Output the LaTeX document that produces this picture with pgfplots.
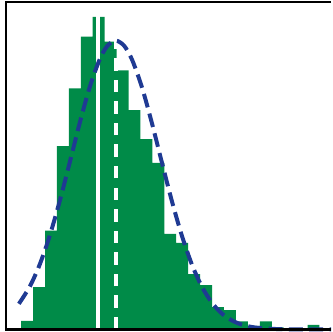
\documentclass[border=0pt]{standalone}
\usepackage{pgfplots}
\pgfplotsset{compat=1.18}
\definecolor{hgreen}{RGB}{0,139,72}
\definecolor{cblue}{RGB}{31,58,147}
\begin{document}
\begin{tikzpicture}
\begin{axis}[
  name=ax,
  x=1pt, y=1pt,
  xmin=6, xmax=333, ymin=0, ymax=329.5,
  axis line style={draw=none},
  xtick=\empty, ytick=\empty,
  clip=false,
]
\addplot[ybar interval, fill=hgreen, draw=none] coordinates {
(21.3,8.5) (33.3,42.5) (45.3,99.5) (57.3,184.5) (69.3,242.5) (81.3,294.5)
(93.3,314.5) (105.3,289.5) (117.3,260.5) (129.3,220.5) (141.3,191.5)
(153.3,167.5) (165.3,96) (177.3,87) (189.3,55.5) (201.3,44.5) (213.3,22.5)
(225.3,19.5) (237.3,8) (249.3,3.5) (261.4,8.2) (273.4,2) (285.4,1)
(297.4,1) (309.4,4.5) (321.4,4.5)
};
% solid white line
\addplot[white, line width=3.1pt] coordinates {(98.6,0) (98.6,329.5)};
% dashed white line
\addplot[white, line width=3.8pt, dash pattern=on 12.5pt off 9.2pt] coordinates {(117,0) (117,329.5)};
% fitted curve
\addplot[smooth, cblue, line width=4pt, dash pattern=on 14pt off 6.5pt] coordinates {
(19,25.8) (30,43.2) (40,65.4) (50,94.2) (60,128.8) (70,167.4) (80,206.9)
(90,242.9) (100,271.0) (108,285.2) (116.5,290.5) (125,285.2) (133,271.0)
(143,242.9) (153,206.9) (163,167.4) (173,128.8) (183,94.2) (193,65.4)
(203,43.2) (213,27.1) (223,16.1) (233,9.2) (243,4.9) (253,2.5) (263,1.2)
(278,0.4) (298,0.05) (333,0)
};
\draw[black, line width=2.4pt] (rel axis cs:1,1) -- (rel axis cs:0,1) -- (rel axis cs:0,0) -- (rel axis cs:1,0);
\end{axis}
\path ([shift={(-6pt,-2.5pt)}]ax.south west) rectangle ([shift={(0pt,1pt)}]ax.north east);
\end{tikzpicture}
\end{document}
